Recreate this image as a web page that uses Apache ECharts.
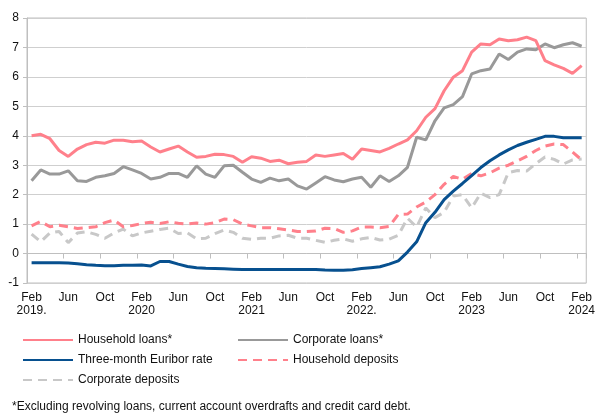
<!DOCTYPE html>
<html>
<head>
<meta charset="utf-8">
<script src="https://cdn.jsdelivr.net/npm/echarts@6/dist/echarts.min.js"></script>
<style>
html,body{margin:0;padding:0;background:#fff;}
#c{width:598px;height:416px;}
</style>
</head>
<body>
<div id="c"></div>
<script>
const categories = [
  'Feb\n2019.','Mar','Apr','May','Jun','Jul','Aug','Sep','Oct','Nov','Dec','Jan',
  'Feb\n2020','Mar','Apr','May','Jun','Jul','Aug','Sep','Oct','Nov','Dec','Jan',
  'Feb\n2021','Mar','Apr','May','Jun','Jul','Aug','Sep','Oct','Nov','Dec','Jan',
  'Feb\n2022.','Mar','Apr','May','Jun','Jul','Aug','Sep','Oct','Nov','Dec','Jan',
  'Feb\n2023','Mar','Apr','May','Jun','Jul','Aug','Sep','Oct','Nov','Dec','Jan',
  'Feb\n2024'
];

const householdLoans = [
  4.00,4.05,3.90,3.50,3.30,3.55,3.70,3.78,3.75,3.85,3.85,3.80,
  3.82,3.62,3.45,3.55,3.65,3.45,3.27,3.30,3.37,3.36,3.30,3.10,
  3.29,3.24,3.13,3.17,3.05,3.10,3.13,3.35,3.30,3.35,3.40,3.20,
  3.55,3.50,3.45,3.57,3.72,3.86,4.17,4.63,4.92,5.53,5.99,6.21,
  6.84,7.12,7.09,7.29,7.23,7.26,7.35,7.23,6.55,6.41,6.29,6.12,
  6.38
];

const corporateLoans = [
  2.47,2.84,2.70,2.70,2.81,2.47,2.45,2.59,2.64,2.72,2.95,2.84,
  2.72,2.53,2.59,2.72,2.72,2.59,2.98,2.70,2.59,2.98,3.00,2.76,
  2.53,2.42,2.56,2.47,2.53,2.30,2.19,2.40,2.61,2.50,2.44,2.53,
  2.59,2.25,2.64,2.45,2.64,2.93,3.95,3.86,4.51,4.95,5.06,5.33,
  6.10,6.21,6.27,6.78,6.59,6.84,6.95,6.92,7.12,6.99,7.09,7.16,
  7.04
];

const euribor = [
  -0.31,-0.31,-0.31,-0.31,-0.32,-0.35,-0.38,-0.40,-0.41,-0.41,-0.40,-0.40,
  -0.39,-0.42,-0.27,-0.27,-0.36,-0.44,-0.48,-0.50,-0.51,-0.52,-0.53,-0.54,
  -0.54,-0.54,-0.54,-0.54,-0.54,-0.54,-0.54,-0.54,-0.56,-0.57,-0.57,-0.55,
  -0.51,-0.48,-0.45,-0.36,-0.25,0.05,0.40,1.05,1.40,1.83,2.12,2.38,
  2.65,2.92,3.15,3.35,3.52,3.67,3.78,3.88,3.98,3.98,3.93,3.93,
  3.93
];

const householdDeposits = [
  0.94,1.09,0.91,0.96,0.91,0.85,0.88,0.91,1.05,1.14,0.91,0.95,
  1.02,1.06,1.02,1.08,1.03,1.00,1.04,1.00,1.05,1.17,1.15,1.00,
  0.94,0.88,0.88,0.84,0.80,0.75,0.75,0.77,0.86,0.85,0.72,0.77,
  0.90,0.90,0.88,0.92,1.33,1.34,1.58,1.75,2.00,2.35,2.62,2.52,
  2.72,2.64,2.74,2.90,3.00,3.15,3.30,3.50,3.65,3.72,3.70,3.45,
  3.18
];

const corporateDeposits = [
  0.66,0.40,0.70,0.75,0.37,0.70,0.74,0.65,0.52,0.70,0.83,0.60,
  0.70,0.76,0.82,0.86,0.68,0.70,0.50,0.52,0.68,0.80,0.72,0.52,
  0.48,0.52,0.52,0.60,0.62,0.52,0.52,0.45,0.38,0.45,0.50,0.42,
  0.50,0.55,0.46,0.49,0.62,1.20,0.90,1.55,1.22,1.40,1.95,2.00,
  1.55,2.05,1.90,2.00,2.75,2.82,2.80,3.05,3.28,3.20,3.04,3.18,
  3.21
];

const yTicks = { min: -1, max: 8, interval: 1 };
const footnote = '*Excluding revolving loans, current account overdrafts and credit card debt.';

const PINK = '#ff808b', GRAY = '#999999', BLUE = '#07508f', LGRAY = '#c8c8c8';
const FONT = 'Liberation Sans, Arial, sans-serif';

function lineSeries(name, data, color, dashed) {
  return {
    name: name, type: 'line', data: data, symbol: 'none', smooth: false,
    lineStyle: { color: color, width: 3, type: dashed ? [9, 6] : 'solid' },
    itemStyle: { color: color },
    emphasis: { disabled: true }, animation: false
  };
}

const chart = echarts.init(document.getElementById('c'), null, { renderer: 'canvas' });
const legendBase = {
  orient: 'vertical', top: 329, itemWidth: 50, itemHeight: 14, itemGap: 8,
  textStyle: { fontFamily: FONT, fontSize: 12, color: '#111' },
  itemStyle: { opacity: 0 },
  selectedMode: false
};
chart.setOption({
  animation: false,
  grid: { left: 27, right: 10, top: 18, bottom: 133, show: true, borderColor: '#bfbfbf', borderWidth: 1 },
  xAxis: {
    type: 'category', data: categories, boundaryGap: true,
    axisLine: { lineStyle: { color: '#bfbfbf' } },
    axisTick: { show: true, interval: 3, length: 5, lineStyle: { color: '#bfbfbf' } },
    axisLabel: { interval: 3, margin: 8, fontFamily: FONT, fontSize: 12, color: '#111', lineHeight: 13 },
    splitLine: { show: false }
  },
  yAxis: {
    type: 'value', min: yTicks.min, max: yTicks.max, interval: yTicks.interval,
    axisLine: { show: true, lineStyle: { color: '#bfbfbf' } },
    axisTick: { show: true, length: 4, lineStyle: { color: '#bfbfbf' } },
    axisLabel: { margin: 8, fontFamily: FONT, fontSize: 12, color: '#111' },
    splitLine: { lineStyle: { color: '#cfcfcf', width: 1 } }
  },
  legend: [
    Object.assign({}, legendBase, { left: 17, data: ['Household loans*', 'Three-month Euribor rate', 'Corporate deposits'] }),
    Object.assign({}, legendBase, { left: 232, data: ['Corporate loans*', 'Household deposits'] })
  ],
  graphic: [{
    type: 'text', left: 12, top: 401,
    style: { text: footnote, fontFamily: FONT, fontSize: 12, fill: '#111' }
  }],
  series: [
    lineSeries('Corporate deposits', corporateDeposits, LGRAY, true),
    lineSeries('Household deposits', householdDeposits, PINK, true),
    lineSeries('Corporate loans*', corporateLoans, GRAY, false),
    lineSeries('Household loans*', householdLoans, PINK, false),
    lineSeries('Three-month Euribor rate', euribor, BLUE, false)
  ]
});
</script>
</body>
</html>
